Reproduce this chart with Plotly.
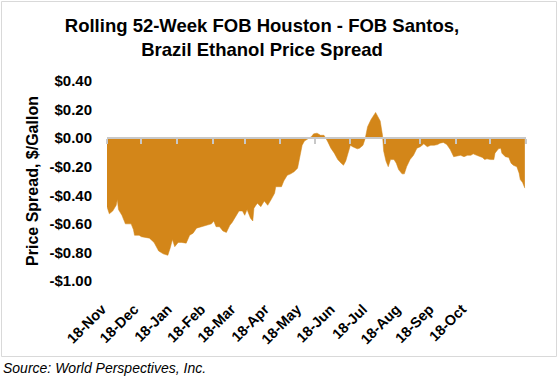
import pandas as pd
import plotly.graph_objects as go

start_date = "2017-11-18"
end_date = "2018-11-18"

# day offsets from start_date and spread values ($/gallon)
day_offsets = [0, 2, 5, 8, 9, 10, 13, 16, 21, 23, 24, 28, 30, 37, 41, 45, 49, 53, 55, 57,
               59, 62, 65, 69, 72, 75, 78, 82, 86, 91, 93, 95, 98, 101, 104, 107, 109, 112,
               115, 118, 120, 122, 125, 127, 128, 131, 134, 137, 140, 143, 146, 147, 152,
               154, 157, 160, 163, 166, 168, 170, 172, 175, 178, 180, 183, 186, 189, 192,
               195, 198, 201, 204, 206, 208, 210, 212, 214, 217, 218, 220, 223, 225, 227,
               230, 233, 234, 236, 238, 240, 241, 243, 245, 247, 250, 252, 254, 257, 259,
               261, 264, 267, 270, 273, 276, 279, 282, 285, 288, 290, 293, 296, 299, 302,
               305, 308, 311, 314, 317, 319, 322, 327, 329, 331, 334, 337, 338, 341, 343,
               344, 347, 350, 352, 354, 357, 359, 360, 362, 364]
spread = [-0.48, -0.53, -0.51, -0.47, -0.43, -0.50, -0.54, -0.60, -0.60, -0.64, -0.68, -0.68,
          -0.69, -0.70, -0.73, -0.79, -0.81, -0.82, -0.77, -0.71, -0.76, -0.73, -0.73, -0.735,
          -0.68, -0.665, -0.63, -0.62, -0.61, -0.60, -0.58, -0.62, -0.62, -0.65, -0.66, -0.61,
          -0.59, -0.55, -0.51, -0.51, -0.54, -0.50, -0.56, -0.58, -0.49, -0.455, -0.48, -0.44,
          -0.47, -0.43, -0.385, -0.34, -0.34, -0.30, -0.26, -0.25, -0.235, -0.21, -0.12, -0.05,
          -0.02, -0.005, 0.01, 0.03, 0.035, 0.02, 0.02, -0.02, -0.07, -0.105, -0.15, -0.175,
          -0.19, -0.16, -0.105, -0.05, -0.06, -0.07, -0.075, -0.07, -0.05, 0.0, 0.08, 0.13,
          0.165, 0.18, 0.15, 0.12, 0.02, -0.09, -0.16, -0.20, -0.15, -0.15, -0.175, -0.22,
          -0.25, -0.25, -0.20, -0.15, -0.12, -0.07, -0.06, -0.04, -0.06, -0.05, -0.05, -0.045,
          -0.035, -0.03, -0.045, -0.08, -0.13, -0.125, -0.12, -0.13, -0.12, -0.12, -0.11,
          -0.12, -0.135, -0.15, -0.145, -0.15, -0.15, -0.105, -0.075, -0.07, -0.105, -0.13,
          -0.135, -0.175, -0.19, -0.20, -0.245, -0.29, -0.31, -0.35]

tick_dates = ["2017-11-18", "2017-12-18", "2018-01-18", "2018-02-18", "2018-03-18",
              "2018-04-18", "2018-05-18", "2018-06-18", "2018-07-18", "2018-08-18",
              "2018-09-18", "2018-10-18"]
tick_labels = ["18-Nov", "18-Dec", "18-Jan", "18-Feb", "18-Mar", "18-Apr", "18-May",
               "18-Jun", "18-Jul", "18-Aug", "18-Sep", "18-Oct"]
axis_tick_dates = tick_dates + [end_date]

y_vals = [0.4, 0.2, 0.0, -0.2, -0.4, -0.6, -0.8, -1.0]
y_labels = ["$0.40", "$0.20", "$0.00", "-$0.20", "-$0.40", "-$0.60", "-$0.80", "-$1.00"]

t0 = pd.Timestamp(start_date)
dates = t0 + pd.to_timedelta(day_offsets, unit="D")

W, H = 559, 379
ML, MR, MT, MB = 95, 33, 81, 98          # paper area
PLOT_L = 107                               # left edge of the data plot area (px)
pw, ph = W - ML - MR, H - MT - MB
data_dom0 = (PLOT_L - ML) / pw
y_min, y_max = -1.0, 0.4
FONT = "Arial, Liberation Sans, sans-serif"
ORANGE = "#D38619"
GRAY = "#C8C8C8"

# the date labels in the reference are set a little tighter than the plot's day scale
label_px_per_day = 1.078
label_origin_px = 102
lab_r0 = t0 + pd.Timedelta(days=(ML - label_origin_px) / label_px_per_day)
lab_r1 = t0 + pd.Timedelta(days=(W - MR - label_origin_px) / label_px_per_day)

fig = go.Figure()
fig.add_trace(go.Scatter(x=dates, y=spread, mode="lines", fill="tozeroy",
                         fillcolor=ORANGE, line=dict(color=ORANGE, width=0.5),
                         hoverinfo="skip", showlegend=False))
# helper trace for the label axis
fig.add_trace(go.Scatter(x=dates, y=spread, xaxis="x2", mode="lines",
                         line=dict(width=0, color="rgba(0,0,0,0)"),
                         hoverinfo="skip", showlegend=False))

fig.update_layout(
    width=W, height=H, autosize=False,
    margin=dict(l=ML, r=MR, t=MT, b=MB),
    paper_bgcolor="white", plot_bgcolor="rgba(0,0,0,0)",
    font=dict(family=FONT, color="black"),
    title=dict(text="<b>Rolling 52-Week FOB Houston - FOB Santos,<br>Brazil Ethanol Price Spread</b>",
               x=262 / W, xref="container", xanchor="center",
               y=1 - 31.5 / H, yref="container", yanchor="middle",
               font=dict(size=18.5, family=FONT, color="black")),
    # data axis: line crosses at y = 0, tick marks only
    xaxis=dict(domain=[data_dom0, 1], range=[start_date, end_date], type="date",
               anchor="free", position=(0 - y_min) / (y_max - y_min), side="bottom",
               showline=True, linecolor=GRAY, linewidth=1.5,
               ticks="outside", ticklen=5, tickcolor=GRAY, tickwidth=1.5,
               tickmode="array", tickvals=axis_tick_dates,
               showticklabels=False, showgrid=False, zeroline=False, layer="above traces"),
    # label axis at the bottom
    xaxis2=dict(domain=[0, 1], range=[lab_r0, lab_r1], type="date", anchor="y",
                tickmode="array", tickvals=tick_dates, ticktext=tick_labels,
                tickangle=-45, showgrid=False, zeroline=False, showline=False, ticks="",
                ticklabelstandoff=16,
                tickfont=dict(size=14.5, family=FONT, color="black", weight="bold")),
    yaxis=dict(anchor="x", range=[y_min, y_max], tickmode="array", tickvals=y_vals,
               ticktext=y_labels, showgrid=False, zeroline=False, showline=False, ticks="",
               ticklabelstandoff=14,
               tickfont=dict(size=15, family=FONT, color="black", weight="bold"),
               title=dict(text="<b>Price Spread, $/Gallon</b>", standoff=6,
                          font=dict(size=16, family=FONT, color="black"))),
)

# outer chart border
fig.add_shape(type="rect", xref="paper", yref="paper",
              x0=(1.5 - ML) / pw, x1=(556.5 - ML) / pw,
              y0=(H - MB - 356.5) / ph, y1=(H - MB - 1.5) / ph,
              line=dict(color="#D9D9D9", width=1), fillcolor="rgba(0,0,0,0)", layer="below")

fig.add_annotation(text="<i>Source: World Perspectives, Inc.</i>",
                   xref="paper", yref="paper", x=(1 - ML) / pw, y=(H - MB - 368) / ph,
                   xanchor="left", yanchor="middle", showarrow=False,
                   font=dict(size=14, family=FONT, color="black"))

fig.write_html("out.html", config={"displayModeBar": False},
               post_script="document.body.style.margin='0px';document.body.style.padding='0px';")
